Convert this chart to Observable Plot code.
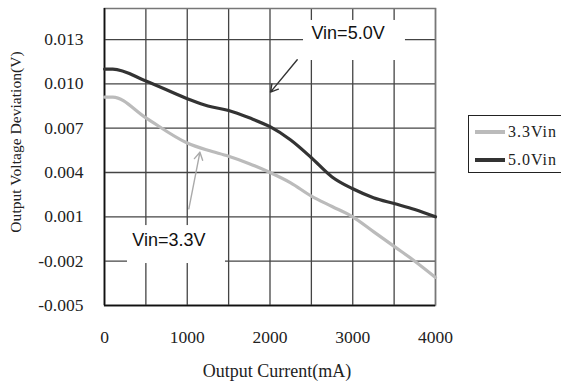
<!DOCTYPE html>
<html>
<head>
<meta charset="utf-8">
<script src="https://cdn.jsdelivr.net/npm/d3@7"></script>
<script src="https://cdn.jsdelivr.net/npm/@observablehq/plot@0.6"></script>
<style>
  html, body { margin: 0; padding: 0; background: #fff; }
  #wrap { position: relative; width: 561px; height: 385px; overflow: hidden; }
  #legend { position: absolute; left: 468px; top: 115px; width: 110px; height: 58px;
            border: 1.5px solid #222; background: #fff; box-sizing: border-box;
            font-family: "Liberation Serif", serif; font-size: 16px; color: #222; letter-spacing: 1px; }
  .item { position: absolute; left: 6px; display: flex; align-items: center; line-height: 18px; }
  .sw { width: 30px; height: 4px; margin-right: 3px; }
</style>
</head>
<body>
<div id="wrap"></div>
<script>
// ---- data ----
const currentmA = [0, 100, 500, 1000, 1250, 1500, 1750, 2000, 2250, 2500, 2750, 3000, 3250, 3500, 3750, 4000];
const dev33 = [0.0091, 0.0091, 0.0077, 0.0060, 0.0055, 0.0051, 0.0046, 0.0040, 0.0033, 0.0024, 0.0017, 0.0010, 0.0000, -0.0010, -0.0020, -0.0031];
const dev50 = [0.0110, 0.0110, 0.0102, 0.0090, 0.0085, 0.0082, 0.0077, 0.0071, 0.0062, 0.0050, 0.0037, 0.0029, 0.0023, 0.0019, 0.0015, 0.0010];
const seriesNames = ["3.3Vin", "5.0Vin"];
const seriesColors = ["#bbbbbb", "#333333"];
const xTicks = [0, 1000, 2000, 3000, 4000];
const xGrid = [0, 500, 1000, 1500, 2000, 2500, 3000, 3500, 4000];
const yTicks = [-0.005, -0.002, 0.001, 0.004, 0.007, 0.010, 0.013];
const xTitle = "Output Current(mA)";
const yTitle = "Output Voltage Deviation(V)";
// annotations (data coordinates)
const noteLabels = ["Vin=5.0V", "Vin=3.3V"];
const noteX = [2943, 779];
const noteY = [0.01341, -0.0006];
const boxX1 = [2405, 278], boxX2 = [3637, 1462];
const boxY1 = [0.01158, -0.00216], boxY2 = [0.01429, 0.00041];
const arrX1 = [2329, 1019], arrY1 = [0.01163, 0.00154];
const arrX2 = [2006, 1153], arrY2 = [0.00944, 0.00537];
const arrColors = ["#333333", "#aaaaaa"];

const rows = [];
seriesNames.forEach((s, i) => {
  const vals = i === 0 ? dev33 : dev50;
  currentmA.forEach((c, j) => rows.push({series: s, x: c, y: vals[j]}));
});
const notes = noteLabels.map((t, i) => ({t, x: noteX[i], y: noteY[i], x1: boxX1[i], x2: boxX2[i], y1: boxY1[i], y2: boxY2[i],
  ax1: arrX1[i], ay1: arrY1[i], ax2: arrX2[i], ay2: arrY2[i], c: arrColors[i]}));

const fmtY = d => d3.format(".3f")(d).replace("\u2212", "-");

const chart = Plot.plot({
  width: 561, height: 385,
  marginLeft: 104, marginRight: 126, marginTop: 8, marginBottom: 80,
  style: {fontFamily: "'Liberation Serif', serif", fontSize: "17.5px", color: "#222", background: "#fff"},
  x: {domain: [0, 4000]},
  y: {domain: [-0.005, 0.0151]},
  color: {domain: seriesNames, range: seriesColors},
  marks: [
    Plot.ruleX(xGrid, {stroke: "#444", strokeWidth: 1.3}),
    Plot.ruleY(yTicks, {stroke: "#444", strokeWidth: 1.3}),
    Plot.frame({stroke: "#777", strokeWidth: 1.5}),
    Plot.rect(notes, {x1: "x1", x2: "x2", y1: "y1", y2: "y2", fill: "white"}),
    Plot.ruleX([0], {stroke: "#111", strokeWidth: 1.6}),
    Plot.ruleY([-0.005], {stroke: "#111", strokeWidth: 1.6}),
    Plot.line(rows, {x: "x", y: "y", z: "series", stroke: "series", strokeWidth: 3.2, curve: "monotone-x"}),
    Plot.arrow(notes, {x1: "ax1", y1: "ay1", x2: "ax2", y2: "ay2", stroke: "c", strokeWidth: 1.4, headLength: 9, bend: 0}),
    Plot.text(notes, {x: "x", y: "y", text: "t", fontFamily: "'Liberation Sans', Arial, sans-serif", fontSize: 18, fill: "#111"}),
    Plot.axisY({ticks: yTicks, tickSize: 0, tickPadding: 21, tickFormat: fmtY, label: null}),
    Plot.axisX({ticks: xTicks, tickSize: 0, tickPadding: 25, tickFormat: d3.format("d"), label: null}),
    Plot.text([xTitle], {frameAnchor: "bottom", dy: 71, dx: 7, fontSize: 18, letterSpacing: "0.9px", fill: "#222"}),
    Plot.text([yTitle], {frameAnchor: "left", textAnchor: "middle", rotate: -90, dx: -89, dy: -15, fontSize: 15.6, fill: "#222"})
  ]
});
const wrap = document.getElementById("wrap");
wrap.appendChild(chart);

const legend = document.createElement("div");
legend.id = "legend";
seriesNames.forEach((s, i) => {
  const it = document.createElement("div");
  it.className = "item";
  it.style.top = (i === 0 ? 7 : 35) + "px";
  const sw = document.createElement("span");
  sw.className = "sw";
  sw.style.background = seriesColors[i];
  const lb = document.createElement("span");
  lb.textContent = s;
  it.appendChild(sw); it.appendChild(lb);
  legend.appendChild(it);
});
wrap.appendChild(legend);
</script>
</body>
</html>
